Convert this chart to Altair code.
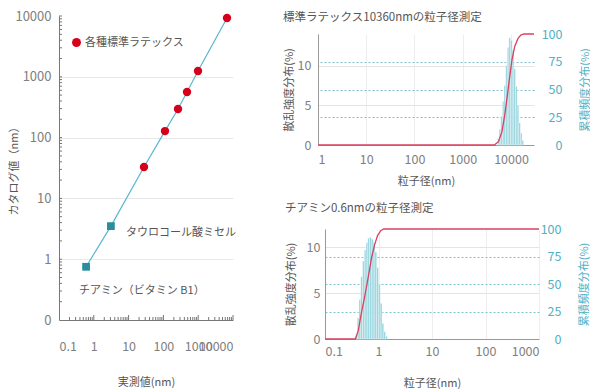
import altair as alt
import pandas as pd

FONT = "Noto Sans CJK JP"
RED = "#d7001b"
LINE_BLUE = "#5ab6d0"
SQUARE = "#2a8c9c"
CUM_RED = "#d9415f"
BAR = "#8fd2dc"
TEAL = "#4fb0c6"
GRAY_LBL = "#808080"

# ---------------- left panel: measured vs catalog ----------------
latex_name = ["各種標準ラテックス"] * 6
latex_measured = [27.7, 111, 263, 477, 987, 6730]
latex_catalog = [32.8, 128, 296, 562, 1245, 9270]
micelle_measured = [3.1]
micelle_catalog = [3.5]
thiamine_measured = [0.6]
thiamine_catalog = [0.75]
left_ticks = [0.1, 1, 10, 100, 1000, 10000]
minor_mult = [2, 3, 4, 5, 6, 7, 8, 9]
decades = [0.1, 1, 10, 100, 1000]

# ---------------- right top: latex 10360 nm ----------------
top_edges = [5250, 5680, 6140, 6640, 7180, 7760, 8390, 9070, 9810, 10600,
             11460, 12390, 13400, 14490, 15670, 16940, 18320]
top_heights = [0.8, 2.0, 3.6, 5.5, 7.5, 10.0, 12.3, 13.5, 13.2, 12.0,
               9.6, 7.4, 5.0, 2.8, 1.5, 0.6]
top_cum_x = [1, 4500, 5500, 6500, 7500, 8500, 9500, 10500, 12000, 14000, 16000, 18500, 30000]
top_cum_y = [0, 0, 3, 12, 28, 46, 63, 77, 89, 96, 99, 100, 100]
top_xticks = [1, 10, 100, 1000, 10000]

# ---------------- right bottom: thiamine 0.6 nm ----------------
bot_edges = [0.3715, 0.4009, 0.4325, 0.4667, 0.5035, 0.5433, 0.5861, 0.6324, 0.6823,
             0.7362, 0.7943, 0.857, 0.9247, 0.9977, 1.0765, 1.1614, 1.2531, 1.3521, 1.4588]
bot_heights = [0.4, 2.3, 4.3, 6.8, 8.5, 9.7, 10.5, 11.0, 11.1, 10.9,
               10.5, 9.5, 7.8, 6.0, 3.9, 1.7, 0.8, 0.3]
bot_cum_x = [0.1, 0.37, 0.42, 0.48, 0.55, 0.61, 0.68, 0.75, 0.85, 0.96, 1.1, 1.25, 1000]
bot_cum_y = [0, 0, 8, 24, 38, 50, 63, 75, 86, 94, 98.5, 100, 100]
bot_xticks = [0.1, 1, 10, 100, 1000]

# ================= left chart =================
all_pts = pd.DataFrame({
    "measured": thiamine_measured + micelle_measured + latex_measured,
    "catalog": thiamine_catalog + micelle_catalog + latex_catalog,
})
latex_df = pd.DataFrame({"measured": latex_measured, "catalog": latex_catalog, "name": latex_name})
sq_df = pd.DataFrame({"measured": thiamine_measured + micelle_measured,
                      "catalog": thiamine_catalog + micelle_catalog})
micelle_df = pd.DataFrame({"measured": micelle_measured, "catalog": micelle_catalog,
                           "label": ["タウロコール酸ミセル"]})
thiamine_df = pd.DataFrame({"measured": thiamine_measured, "catalog": thiamine_catalog,
                            "label": ["チアミン（ビタミン B1）"]})
minor_x_df = pd.DataFrame({"v": [m * d for d in decades for m in minor_mult]})
major_x_df = pd.DataFrame({"v": left_ticks[1:]})
minor_y_df = pd.DataFrame({"v": [m * d for d in decades for m in minor_mult] + left_ticks[1:]})

xs = alt.Scale(type="log", domain=[0.1, 10000], nice=False)
ys = alt.Scale(type="log", domain=[0.1, 10000], nice=False)

base_x = alt.X("measured:Q", scale=xs, axis=alt.Axis(
    values=left_ticks, format="~g", title="実測値(nm)", grid=False, ticks=False,
    labelPadding=20, titlePadding=24, labelOverlap=False, labelFontSize=12.5,
    labelColor=GRAY_LBL, domainColor="#777"))
base_y = alt.Y("catalog:Q", scale=ys, axis=alt.Axis(
    values=left_ticks, labelExpr="datum.value < 0.5 ? '0' : format(datum.value, '~g')",
    title="カタログ値（nm）", grid=True, gridColor="#e8e8e8",
    gridOpacity=alt.condition("datum.value > 5000 || datum.value < 0.5", alt.value(0), alt.value(1)),
    ticks=False, labelPadding=8, titleX=-45, titleY=152, titleBaseline="middle",
    labelFontSize=13, labelColor=GRAY_LBL, domainColor="#777"))

line = alt.Chart(all_pts).mark_line(color=LINE_BLUE, strokeWidth=1.2).encode(
    x=base_x, y=base_y, order="measured:Q")
circles = alt.Chart(latex_df).mark_circle(size=70, opacity=1).encode(
    x="measured:Q", y="catalog:Q",
    color=alt.Color("name:N", scale=alt.Scale(domain=["各種標準ラテックス"], range=[RED]),
                    legend=alt.Legend(orient="none", legendX=12, legendY=21, title=None,
                                      padding=0, symbolType="circle", symbolSize=80,
                                      labelFontSize=11, labelColor="#555", labelFont=FONT,
                                      labelOffset=3, symbolStrokeWidth=0)))
squares = alt.Chart(sq_df).mark_square(size=60, color=SQUARE, opacity=1).encode(
    x="measured:Q", y="catalog:Q")
t1 = alt.Chart(micelle_df).mark_text(align="left", dx=15, dy=7, fontSize=11, color="#555").encode(
    x="measured:Q", y="catalog:Q", text="label:N")
t2 = alt.Chart(thiamine_df).mark_text(align="left", dx=-7, dy=24, fontSize=11, color="#555").encode(
    x="measured:Q", y="catalog:Q", text="label:N")
mx = alt.Chart(minor_x_df).mark_rule(color="#777", strokeWidth=1, y2Offset=-3).encode(
    x="v:Q", y=alt.datum(0.1), y2=alt.datum(0.1))
Mx = alt.Chart(major_x_df).mark_rule(color="#777", strokeWidth=1, y2Offset=-5).encode(
    x="v:Q", y=alt.datum(0.1), y2=alt.datum(0.1))
my = alt.Chart(minor_y_df).mark_rule(color="#777", strokeWidth=1, x2Offset=3).encode(
    y="v:Q", x=alt.datum(0.1), x2=alt.datum(0.1))

left = alt.layer(line, mx, Mx, my, squares, circles, t1, t2).properties(width=174, height=304)


# ================= distribution panels =================
def panel(title, edges, heights, cx, cy, xdom, xticks, ymax, w, h,
          lab_pad_left, title_pad_left, lab_pad_right, title_x_right,
          x_lab_pad, x_title_pad, title_offset):
    bars = pd.DataFrame({"lo": edges[:-1], "hi": edges[1:], "v": heights})
    cum = pd.DataFrame({"size": cx, "cum": cy})
    xsc = alt.Scale(type="log", domain=xdom, nice=False)
    b = alt.Chart(bars).mark_rect(color=BAR, stroke="white", strokeWidth=0.4).encode(
        x=alt.X("lo:Q", scale=xsc, axis=alt.Axis(
            values=xticks, format="~g", title="粒子径(nm)", grid=True, gridColor="#eeeeee",
            ticks=False, labelPadding=x_lab_pad, titlePadding=x_title_pad, labelFontSize=12.5,
            labelColor=GRAY_LBL, domainColor="#999", labelOverlap=False)),
        x2="hi:Q",
        y=alt.Y("v:Q", scale=alt.Scale(domain=[0, ymax], nice=False), axis=alt.Axis(
            values=[0, 5, 10], title="散乱強度分布(%)", grid=True, gridColor="#e4e4e4",
            gridOpacity=alt.condition("datum.value == 0", alt.value(0), alt.value(1)),
            ticks=False, labelPadding=lab_pad_left, titlePadding=title_pad_left,
            labelFontSize=12.5, labelColor=GRAY_LBL, domainColor="#999")),
        y2=alt.datum(0))
    l = alt.Chart(cum).mark_line(color=CUM_RED, strokeWidth=1.3).encode(
        x="size:Q",
        y=alt.Y("cum:Q", scale=alt.Scale(domain=[0, 100], nice=False), axis=alt.Axis(
            orient="right", values=[0, 25, 50, 75, 100], title="累積頻度分布(%)",
            titleAngle=270, titleColor=TEAL, labelColor=TEAL, grid=True,
            gridColor="#7cc4cf", gridDash=[2, 2],
            gridOpacity=alt.condition("datum.value == 0 || datum.value == 100", alt.value(0), alt.value(1)),
            ticks=False, domain=False, labelAlign="right", labelPadding=lab_pad_right,
            titleX=title_x_right, titleY=h / 2, titleBaseline="middle",
            labelFontSize=12.5)))
    return alt.layer(b, l).resolve_scale(y="independent").properties(
        width=w, height=h,
        title=alt.TitleParams(title, anchor="start", frame="bounds", fontSize=11.5,
                              fontWeight="normal", color="#555", offset=title_offset))


top = panel("標準ラテックス10360nmの粒子径測定", top_edges, top_heights, top_cum_x, top_cum_y,
            [1, 30000], top_xticks, 14, 216, 111, 7, 3, 28, 51, 8, 10, 5)
bottom = panel("チアミン0.6nmの粒子径測定", bot_edges, bot_heights, bot_cum_x, bot_cum_y,
               [0.1, 1000], bot_xticks, 12, 214, 110, 5, 10, 22, 45, 6, 20, 9)


def spacer():
    return alt.Chart(pd.DataFrame({"a": [0]})).mark_point(size=1, opacity=0, filled=True).encode(
        x=alt.value(0), y=alt.value(0)).properties(width=1, height=1)


right = alt.vconcat(
    alt.vconcat(spacer(), top, spacing=-6),
    alt.hconcat(spacer(), bottom, spacing=-34),
    spacing=15)

chart = alt.hconcat(left, right, spacing=47).properties(
    padding={"top": 2, "left": 0, "right": 0, "bottom": 0}
).configure(
    font=FONT
).configure_view(stroke=None).configure_axis(
    labelFont=FONT, titleFont=FONT, titleFontWeight="normal", titleFontSize=11,
    titleColor="#555"
).configure_legend(labelFont=FONT)

chart.save("out.html", embed_options={"renderer": "svg", "actions": False})
